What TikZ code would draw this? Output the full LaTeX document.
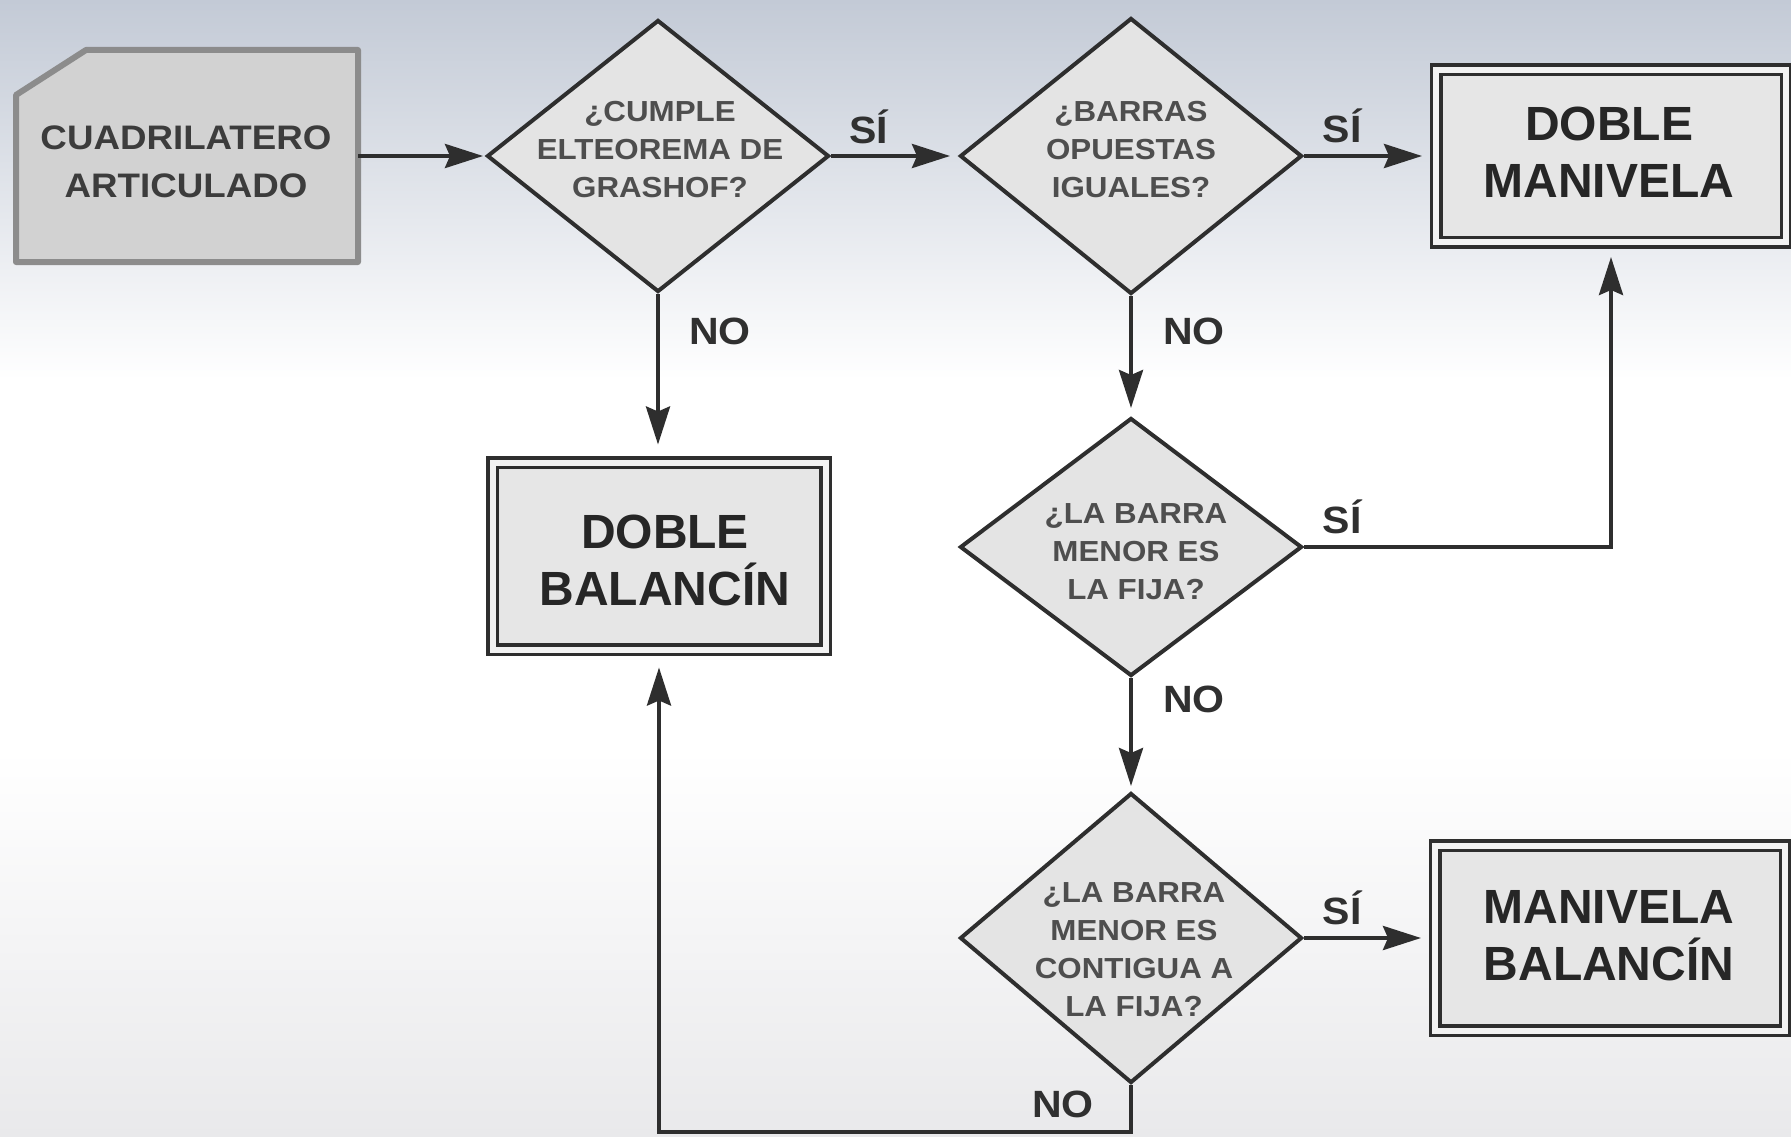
\documentclass[tikz,border=0pt]{standalone}
\usepackage{fontspec}
\setmainfont{Liberation Sans}
\newfontfamily\dfont[FakeStretch=1.08]{Liberation Sans}
\usetikzlibrary{shapes.geometric,arrows.meta,calc}
\definecolor{bgtop}{HTML}{C3CAD6}
\definecolor{bgbot}{HTML}{E9E9EB}
\definecolor{dfill}{HTML}{E4E4E4}
\definecolor{bfill}{HTML}{E6E6E6}
\definecolor{sfill}{HTML}{D2D2D2}
\definecolor{sline}{HTML}{8C8C8C}
\definecolor{linec}{HTML}{2E2E2E}
\definecolor{dbl}{HTML}{F2F2F2}
\definecolor{dtextc}{HTML}{4E4E4E}
\definecolor{btextc}{HTML}{262626}
\definecolor{lblc}{HTML}{303030}
\begin{document}
\begin{tikzpicture}[x=1pt,y=-1pt,
  dec/.style={diamond, draw=linec, line width=4pt, fill=dfill, inner sep=0pt, minimum width=342pt},
  dtext/.style={align=center, font=\dfont\bfseries\fontsize{29}{38}\selectfont, text=dtextc, inner sep=0pt},
  endbox/.style={draw=linec, line width=3.5pt, double=dbl, double distance=6pt, fill=bfill, minimum width=350pt, inner sep=0pt, outer sep=0pt},
  btext/.style={align=center, font=\bfseries\fontsize{48}{57}\selectfont, text=btextc, inner sep=0pt},
  stext/.style={align=center, font=\dfont\bfseries\fontsize{34}{48}\selectfont, text=btextc!90, inner sep=0pt},
  lbl/.style={font=\dfont\bfseries\fontsize{38}{40}\selectfont, text=lblc, inner sep=0pt},
  conn/.style={draw=linec, line width=4pt, -{Stealth[length=38pt,width=24pt,inset=5pt]}},
]
\useasboundingbox (0,0) rectangle (1791,1137);
% background
\shade[top color=bgtop, bottom color=white] (0,0) rectangle (1791,380);
\fill[white] (0,379) rectangle (1791,751);
\shade[top color=white, bottom color=bgbot] (0,750) rectangle (1791,1137);

% start box
\node[minimum width=342pt, minimum height=212pt, inner sep=0pt, outer sep=0pt] (start) at (187,156) {};
\draw[fill=sfill, draw=sline, line width=6pt, line join=round]
  (start.south west) -- ($(start.north west)+(0,45)$) -- ($(start.north west)+(70,0)$)
  -- (start.north east) -- (start.south east) -- cycle;
\node[stext] (starttext) at (186,162) {CUADRILATERO\\ARTICULADO};

% decisions
\node[dec, minimum height=272pt] (d1) at (658,156) {};
\node[dtext] (t1) at (660,150) {¿CUMPLE\\ELTEOREMA DE\\GRASHOF?};
\node[dec, minimum height=276pt] (d2) at (1131,156) {};
\node[dtext] (t2) at (1131,150) {¿BARRAS\\OPUESTAS\\IGUALES?};
\node[dec, minimum height=258pt] (d3) at (1131,547) {};
\node[dtext] (t3) at (1136,552) {¿LA BARRA\\MENOR ES\\LA FIJA?};
\node[dec, minimum height=290pt] (d4) at (1131,938) {};
\node[dtext] (t4) at (1134,950) {¿LA BARRA\\MENOR ES\\CONTIGUA A\\LA FIJA?};

% end boxes
\node[endbox, minimum height=172pt] (dm) at (1611,156) {};
\node[btext] (tdm) at (1609,152) {DOBLE\\MANIVELA};
\node[endbox, minimum width=333pt, minimum height=187pt] (db) at (659,556) {};
\node[btext] (tdb) at (665,560) {DOBLE\\BALANCÍN};
\node[endbox, minimum height=185pt] (mb) at (1610,938) {};
\node[btext] (tmb) at (1609,936) {MANIVELA\\BALANCÍN};

% connectors
\coordinate (bot) at (0,1132);
\draw[conn, shorten >=2pt] (start.east) -- (d1.west);
\draw[conn, shorten >=8pt] (d1.east) -- (d2.west);
\draw[conn, shorten >=14pt] (d2.east) -- (dm.west);
\draw[conn, shorten >=18pt] (d1.south) -- (d1.south |- db.north);
\draw[conn, shorten >=8pt] (d2.south) -- (d3.north);
\draw[conn, shorten >=15pt] (d3.east) -| (dm.south);
\draw[conn, shorten >=5pt] (d3.south) -- (d4.north);
\draw[conn, shorten >=14pt] (d4.east) -- (mb.west);
\draw[conn, shorten >=18pt, line join=miter] (d4.south) -- (d4.south |- bot) -| (db.south);

% labels
\node[lbl] (l1) at (869,127) {SÍ};
\node[lbl] (l2) at (720,331) {NO};
\node[lbl] (l3) at (1342,126) {SÍ};
\node[lbl] (l4) at (1194,331) {NO};
\node[lbl] (l5) at (1342,517) {SÍ};
\node[lbl] (l6) at (1194,699) {NO};
\node[lbl] (l7) at (1342,908) {SÍ};
\node[lbl] (l8) at (1063,1104) {NO};
\end{tikzpicture}
\end{document}
